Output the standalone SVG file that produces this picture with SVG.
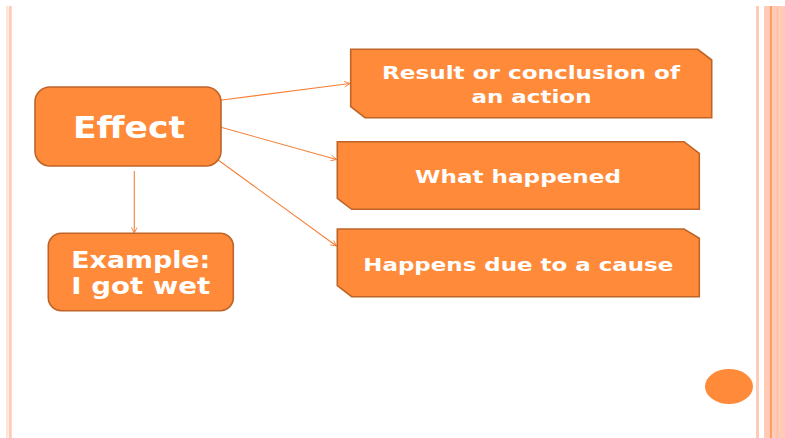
<svg xmlns="http://www.w3.org/2000/svg" width="785" height="438" viewBox="0 0 785 438">
  <defs>
    <marker id="arrow" viewBox="0 0 10 10" refX="9" refY="5" markerWidth="7" markerHeight="7" markerUnits="userSpaceOnUse" orient="auto">
      <path d="M1,1 L9,5 L1,9" fill="none" stroke="#F5813A" stroke-width="1.3"/>
    </marker>
    <style>
      .box { fill: #FF8A3A; stroke: #BF6428; stroke-width: 1.6; }
      .label { fill: #FFFFFF; font-family: "DejaVu Sans", Verdana, sans-serif; font-weight: bold; text-anchor: middle; }
      .conn { fill: none; stroke: #F5813A; stroke-width: 1.1; marker-end: url(#arrow); }
      .band { fill: #FFCAB6; }
    </style>
  </defs>

  <!-- page border decoration -->
  <g id="border">
    <rect x="6.5" y="6" width="1" height="432" class="band"/>
    <rect x="8.7" y="6" width="3" height="432" class="band"/>
    <rect x="756" y="6" width="3" height="432" class="band"/>
    <rect x="764" y="6" width="21" height="432" class="band"/>
    <rect x="770" y="6" width="1.8" height="432" fill="#FF9A5C"/>
    <rect x="776.8" y="6" width="1" height="432" fill="#FFBCA2"/>
  </g>

  <!-- connectors -->
  <g id="connectors">
    <line class="conn" x1="214" y1="101" x2="350" y2="83.5"/>
    <line class="conn" x1="220" y1="127" x2="336.5" y2="159.5"/>
    <line class="conn" x1="214" y1="157" x2="336.5" y2="246"/>
    <line class="conn" x1="134.3" y1="171" x2="134.3" y2="233"/>
  </g>

  <g id="effect">
    <rect class="box" x="35" y="87" width="186" height="79" rx="15" ry="15"/>
    <text class="label" x="129" y="138" font-size="30" textLength="112" lengthAdjust="spacingAndGlyphs">Effect</text>
  </g>

  <g id="result">
    <path class="box" d="M350.7,49.3 H697.7 L711.7,60 V117.7 H365 L350.7,106.7 Z"/>
    <text class="label" x="531" y="79" font-size="18" textLength="298" lengthAdjust="spacingAndGlyphs">Result or conclusion of</text>
    <text class="label" x="531.5" y="103.3" font-size="18" textLength="120" lengthAdjust="spacingAndGlyphs">an action</text>
  </g>

  <g id="happened">
    <path class="box" d="M337.3,141.7 H684 L699.3,153.3 V209.3 H351.7 L337.3,198.3 Z"/>
    <text class="label" x="518" y="183.3" font-size="18.5" textLength="206" lengthAdjust="spacingAndGlyphs">What happened</text>
  </g>

  <g id="cause">
    <path class="box" d="M337.3,229 H684 L699.3,238.3 V296.7 H351.7 L337.3,285.7 Z"/>
    <text class="label" x="518.3" y="270.7" font-size="18.5" textLength="310" lengthAdjust="spacingAndGlyphs">Happens due to a cause</text>
  </g>

  <g id="example">
    <rect class="box" x="48.3" y="233.3" width="185" height="77.4" rx="13" ry="13"/>
    <text class="label" x="140.8" y="267.7" font-size="22.5" textLength="139" lengthAdjust="spacingAndGlyphs">Example:</text>
    <text class="label" x="140.8" y="294" font-size="22.5" textLength="139" lengthAdjust="spacingAndGlyphs">I got wet</text>
  </g>

  <g id="page-dot">
    <ellipse cx="729" cy="386.5" rx="24" ry="17.5" fill="#FF8A3A"/>
  </g>
</svg>
